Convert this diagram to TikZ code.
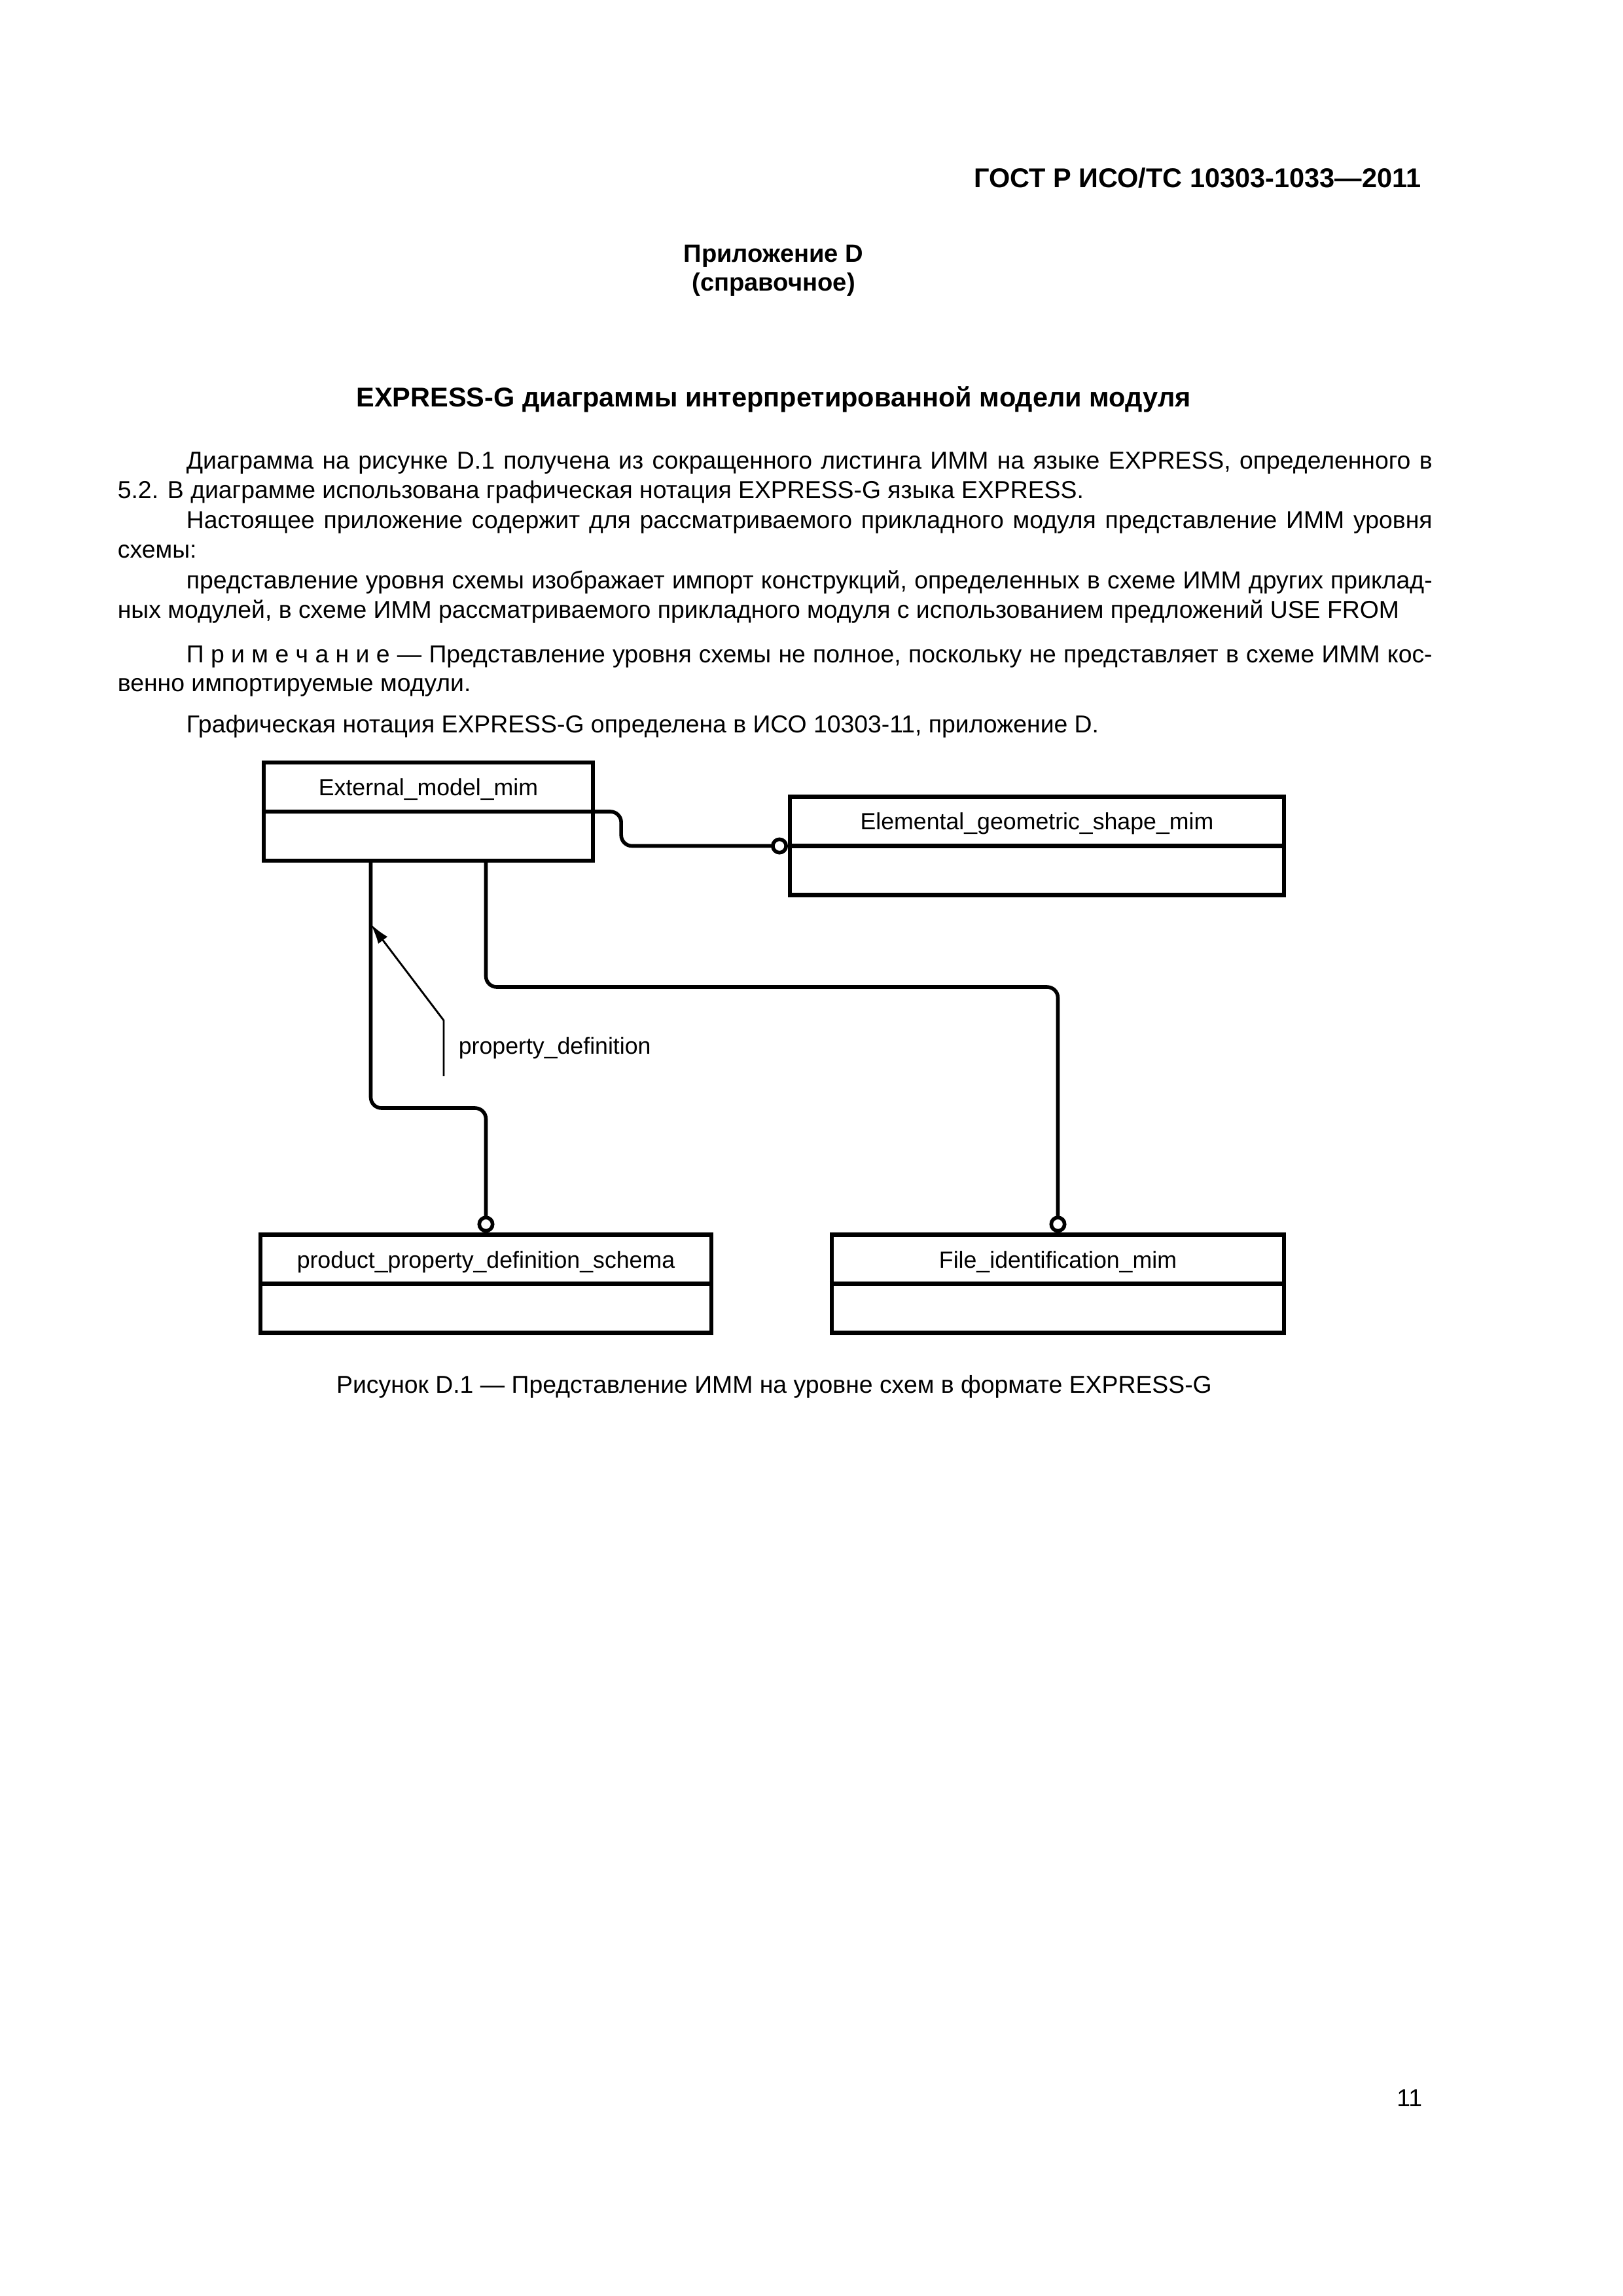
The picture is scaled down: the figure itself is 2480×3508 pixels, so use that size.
\documentclass[tikz,border=0pt]{standalone}
\usepackage{fontspec}
\setmainfont[Ligatures=NoCommon]{Liberation Sans}
\usetikzlibrary{arrows.meta}

% justified lines of the page text
\newcommand{\fullline}[1]{\makebox[170mm][s]{#1}}
\newcommand{\indline}[1]{\makebox[161.2mm][s]{#1}}

\tikzset{
  entity/.style={draw, line width=1.5pt, minimum height=12.7mm, inner sep=0pt},
  entname/.style={anchor=base, inner sep=0pt, font=\fontsize{8.6}{10}\selectfont},
  link/.style={line width=1.35pt, rounded corners=1.4mm, -{Circle[open, length=2.2mm, width=2.2mm]}},
  leader/.style={line width=0.7pt, -{Latex[length=2.6mm, width=1.5mm]}},
  body/.style={anchor=base west, inner sep=0pt, font=\fontsize{9}{10.8}\selectfont},
  heading/.style={anchor=base, inner sep=0pt, font=\fontsize{10}{12}\selectfont\bfseries}
}

\begin{document}
\begin{tikzpicture}[x=0.084677mm, y=-0.084677mm]

% page
\fill[white] (0,0) rectangle (2480,3508);
\useasboundingbox (0,0) rectangle (2480,3508);

% header
\node[heading, anchor=base east] (gost) at (2172,286) {ГОСТ Р ИСО/ТС 10303-1033—2011};
\node[heading, font=\fontsize{9.2}{11}\selectfont\bfseries] (annex) at (1182,400) {Приложение D};
\node[heading, font=\fontsize{9.2}{11}\selectfont\bfseries] (annexkind) at (1182,444) {(справочное)};
\node[heading] (title) at (1182,621) {EXPRESS-G диаграммы интерпретированной модели модуля};

% body text
\node[body] (p1a) at (284,716) {\indline{Диаграмма на рисунке D.1 получена из сокращенного листинга ИММ на языке EXPRESS, определенного в}};
\node[body] (p1b) at (179,761) {5.2. В диаграмме использована графическая нотация EXPRESS-G языка EXPRESS.};
\node[body] (p2a) at (284,807) {\indline{Настоящее приложение содержит для рассматриваемого прикладного модуля представление ИММ уровня}};
\node[body] (p2b) at (179,852) {схемы:};
\node[body] (p3a) at (284,899) {\indline{представление уровня схемы изображает импорт конструкций, определенных в схеме ИММ других приклад-}};
\node[body] (p3b) at (179,944) {ных модулей, в схеме ИММ рассматриваемого прикладного модуля с использованием предложений USE FROM};
\node[body] (p4a) at (284,1012) {\indline{П\hspace{2.5pt}р\hspace{2.5pt}и\hspace{2.5pt}м\hspace{2.5pt}е\hspace{2.5pt}ч\hspace{2.5pt}а\hspace{2.5pt}н\hspace{2.5pt}и\hspace{2.5pt}е — Представление уровня схемы не полное, поскольку не представляет в схеме ИММ кос-}};
\node[body] (p4b) at (179,1056) {венно импортируемые модули.};
\node[body] (p5) at (284,1119) {Графическая нотация EXPRESS-G определена в ИСО 10303-11, приложение D.};

% entities
\node[entity, minimum width=42.6mm] (ext) at (654.5,1240) {};
\node[entity, minimum width=63.9mm] (egs) at (1584.5,1292.5) {};
\node[entity, minimum width=58.3mm] (ppd) at (742.5,1961.5) {};
\node[entity, minimum width=58.5mm] (fid) at (1616.5,1961.5) {};

% dividers
\foreach \e in {ext,egs,ppd,fid}
  \draw[line width=1.5pt] (\e.west) -- (\e.east);

% entity names
\node[entname] (extname) at (654.5,1215) {External\_model\_mim};
\node[entname] (egsname) at (1584.5,1267) {Elemental\_geometric\_shape\_mim};
\node[entname] (ppdname) at (742.5,1937) {product\_property\_definition\_schema};
\node[entname] (fidname) at (1616.5,1937) {File\_identification\_mim};

% links
\coordinate (extl) at ([xshift=-7.45mm]ext.south);
\coordinate (extr) at ([xshift=7.45mm]ext.south);
\draw[link] (ext.east) -- ++(40,0) |- (egs.west);
\draw[link] (extl) -- (extl |- 0,1693) -| (ppd.north);
\draw[link] (extr) -- (extr |- 0,1508) -| (fid.north);

% attribute label
\node[entname, anchor=base west] (pdname) at (700,1610) {property\_definition};
\coordinate (pdfoot) at (678,1644);
\draw[leader] (pdfoot) -- ++(0,-85) -- (extl |- 0,1412);

% caption and page number
\node[body, anchor=base] (caption) at (1183,2128) {Рисунок D.1 — Представление ИММ на уровне схем в формате EXPRESS-G};
\node[body, anchor=base east] (pageno) at (2174,3218) {11};

\end{tikzpicture}
\end{document}
